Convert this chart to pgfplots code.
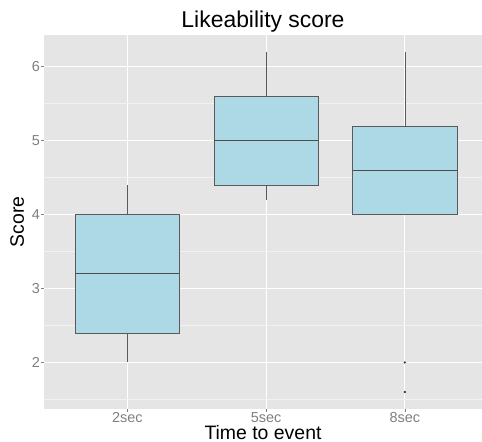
\documentclass[border=0pt]{standalone}
\usepackage{fontspec}
\setmainfont{Liberation Sans}
\usepackage{pgfplots}
\pgfplotsset{compat=1.18}
\usepgfplotslibrary{statistics}

\definecolor{panel}{HTML}{E5E5E5}
\definecolor{minorgrid}{HTML}{F2F2F2}
\definecolor{boxfill}{HTML}{ADD8E6}
\definecolor{boxline}{HTML}{5A5A5A}
\definecolor{ticktext}{HTML}{7F7F7F}

\begin{document}
\begin{tikzpicture}
\begin{axis}[
    scale only axis,
    width=438bp, height=374bp,
    xmin=0.4, xmax=3.556,
    ymin=1.37, ymax=6.43,
    xtick={1,2,3},
    xticklabels={2sec,5sec,8sec},
    ytick={2,3,4,5,6},
    minor ytick={1.5,2.5,3.5,4.5,5.5},
    grid=both,
    major grid style={white, line width=1bp},
    minor grid style={minorgrid, line width=0.6bp},
    axis background/.style={fill=panel},
    axis line style={draw=none},
    tick pos=left,
    tick align=outside,
    major tick length=3bp,
    minor tick length=0pt,
    tick style={ticktext, line width=0.6bp},
    /pgf/number format/assume math mode=true,
    tick label style={font=\fontsize{14.5}{17}\selectfont, text=ticktext},
    xticklabel style={anchor=base, inner sep=0pt, yshift=-10.5bp},
    yticklabel style={inner sep=0pt, xshift=-1bp},
    title={Likeability score},
    every axis title/.style={at={(0.5,1)}, anchor=base, yshift=7bp,
        font=\fontsize{23}{27}\selectfont},
    xlabel={Time to event},
    every axis x label/.style={at={(0.5,0)}, anchor=base, inner sep=0pt, yshift=-30bp,
        font=\fontsize{19.5}{23}\selectfont},
    ylabel={Score},
    every axis y label/.style={at={(0,0.5)}, xshift=-20bp, rotate=90, anchor=base,
        font=\fontsize{19.5}{23}\selectfont},
    boxplot/draw direction=y,
    boxplot/every box/.style={draw=boxline, fill=boxfill, line width=0.6bp},
    boxplot/every whisker/.style={draw=boxline, line width=0.6bp},
    boxplot/every median/.style={draw=boxline!85!black, line width=1.2bp},
]
% 2sec
\addplot[boxplot prepared={draw position=1,
    lower whisker=2.0, lower quartile=2.4, median=3.2,
    upper quartile=4.0, upper whisker=4.4,
    box extend=0.75, whisker extend=0}] coordinates {};
% 5sec
\addplot[boxplot prepared={draw position=2,
    lower whisker=4.2, lower quartile=4.4, median=5.0,
    upper quartile=5.6, upper whisker=6.2,
    box extend=0.75, whisker extend=0}] coordinates {};
% 8sec, two outliers below
\addplot[boxplot prepared={draw position=3,
    lower whisker=4.0, lower quartile=4.0, median=4.6,
    upper quartile=5.2, upper whisker=6.2,
    box extend=0.75, whisker extend=0},
    mark=*, mark size=0.9bp, mark options={fill=black!80, draw=black!80}]
    coordinates {(3,2.0) (3,1.6)};
\end{axis}
\pgfresetboundingbox
\path (-44bp,-33bp) rectangle (438bp,409bp);
\end{tikzpicture}
\end{document}
